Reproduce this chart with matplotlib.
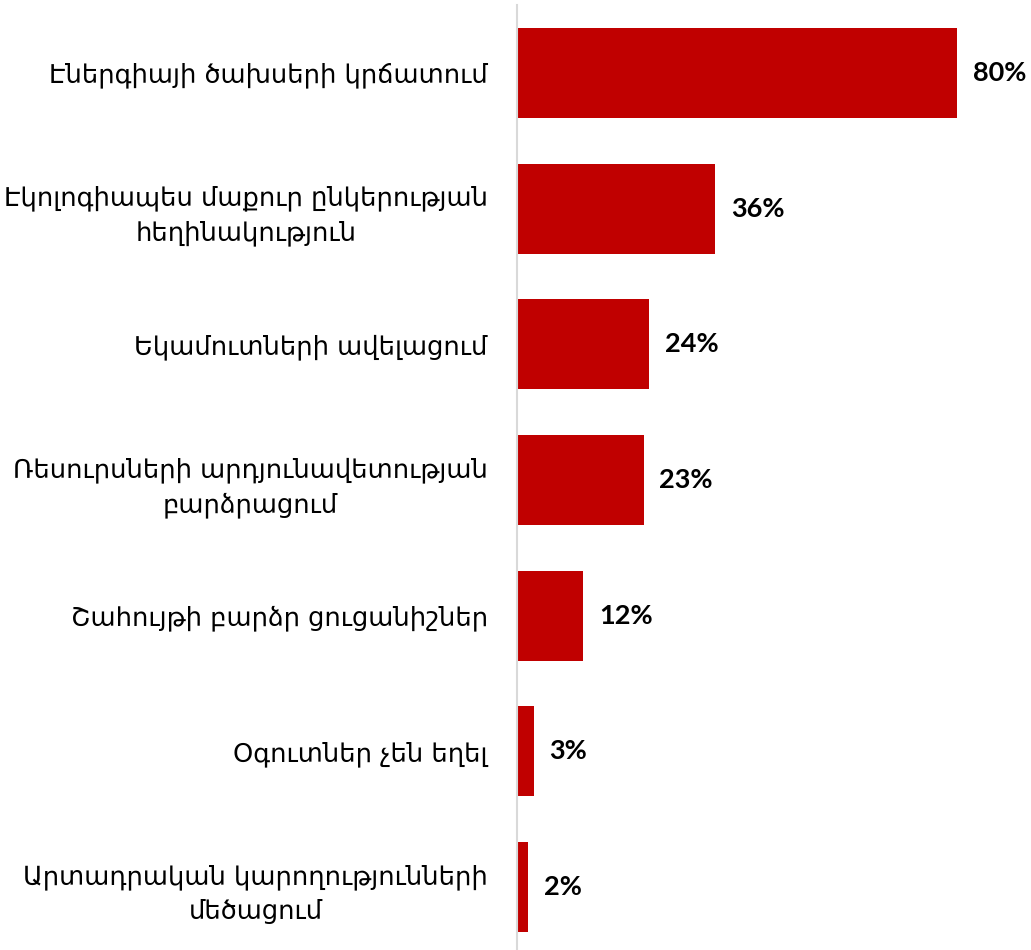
import matplotlib.pyplot as plt

# survey results: benefits reported
categories = [
    "Էներգիայի ծախսերի կրճատում",
    "Էկոլոգիապես մաքուր ընկերության\nհեղինակություն",
    "Եկամուտների ավելացում",
    "Ռեսուրսների արդյունավետության\nբարձրացում",
    "Շահույթի բարձր ցուցանիշներ",
    "Օգուտներ չեն եղել",
    "Արտադրական կարողությունների\nմեծացում",
]
shares = [80, 36, 24, 23, 12, 3, 2]
value_labels = ["80%", "36%", "24%", "23%", "12%", "3%", "2%"]

fig = plt.figure(figsize=(10.31, 9.5), dpi=100)
ax = fig.add_axes([517 / 1031, -5 / 950, 511.5 / 1031, 950 / 950])

pos = list(range(len(categories)))
ax.barh(pos, shares, height=0.663, color="#c00000", edgecolor="none")

ax.set_ylim(len(categories) - 0.5, -0.5)
ax.set_xlim(0, 93)

for y, v, lab in zip(pos, shares, value_labels):
    ax.annotate(lab, (v, y), xytext=(11.5, 0), textcoords="offset points",
                va="center", ha="left", fontsize=19.5, fontweight="bold",
                family=["Lato", "DejaVu Sans"], color="black")

ax.set_yticks(pos)
ax.set_yticklabels(categories, fontsize=18.5, family="DejaVu Sans",
                   multialignment="center", linespacing=1.45)
ax.tick_params(axis="y", length=0, pad=21)
ax.set_xticks([])

for s in ["top", "right", "bottom"]:
    ax.spines[s].set_visible(False)
ax.spines["left"].set_color("#d9d9d9")
ax.spines["left"].set_linewidth(1.5)

fig.savefig("out.png", dpi=100)
